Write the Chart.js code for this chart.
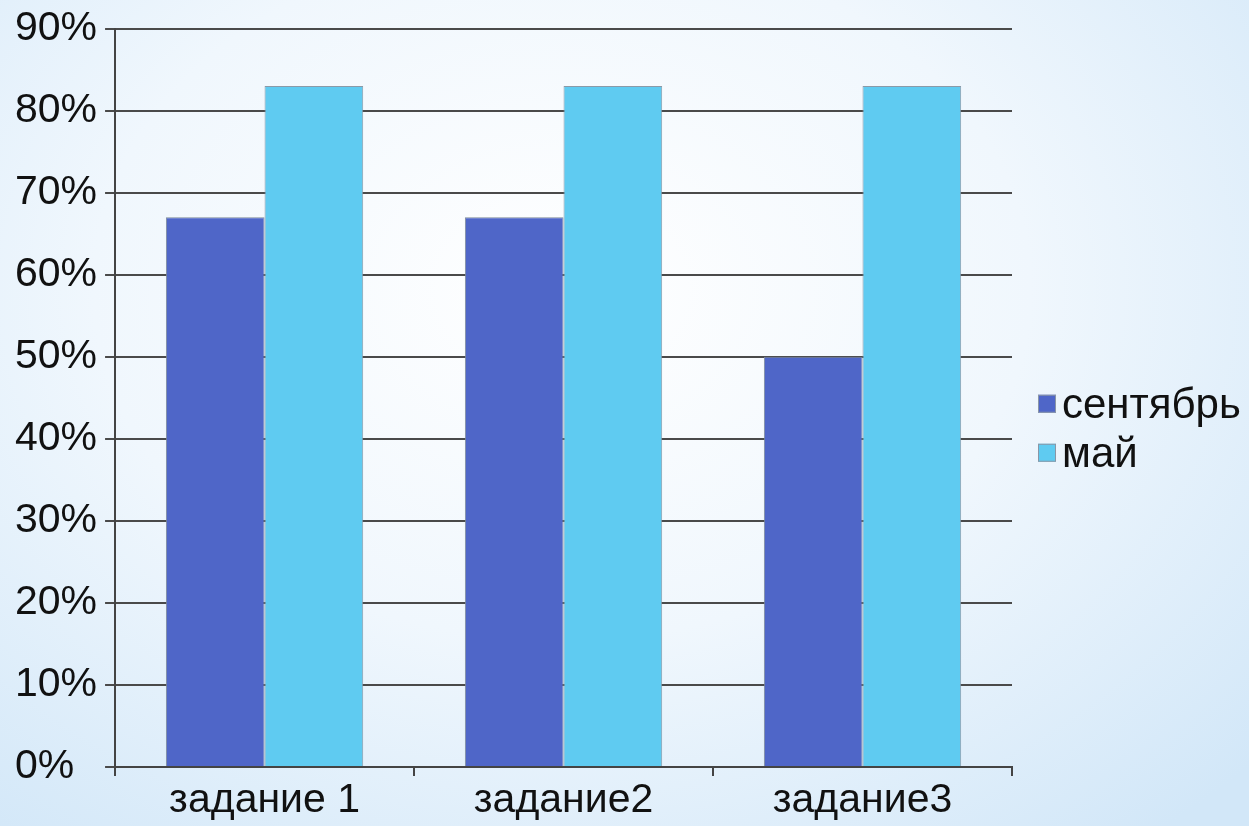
<!DOCTYPE html>
<html lang="ru">
<head>
    <meta charset="UTF-8">
    <title>Диаграмма</title>
    <style>
        html, body { margin: 0; padding: 0; }
        body {
            width: 1249px; height: 826px; overflow: hidden;
            background: radial-gradient(ellipse 75% 85% at 45% 35%, #ffffff 0%, #f0f7fd 50%, #d2e7f8 100%);
            font-family: "Liberation Sans", Arial, sans-serif;
        }
        #wrap { position: relative; width: 1249px; height: 826px; }
    </style>
</head>
<body>
    <div id="wrap">
        <canvas id="myChart" width="1249" height="826"></canvas>
    </div>

    <script src="https://cdn.jsdelivr.net/npm/chart.js"></script>
    <script>
        // Adatok
        const categories = ['задание 1', 'задание2', 'задание3'];
        const september = [67, 67, 50];
        const may = [83, 83, 83];
        const seriesNames = ['сентябрь', 'май'];
        const yTicks = [0, 10, 20, 30, 40, 50, 60, 70, 80, 90];

        // Jelmagyarázat a diagram jobb oldalán, a négyzet közvetlenül a szöveg mellett
        const sideLegend = {
            id: 'sideLegend',
            afterDraw(chart) {
                const c = chart.ctx;
                const area = chart.chartArea;
                const box = 18;
                const rowH = 49;
                const x = area.right + 26;
                const y0 = (area.top + area.bottom) / 2 + 6;
                c.save();
                c.font = '42px "Liberation Sans", Arial, sans-serif';
                c.textBaseline = 'middle';
                chart.data.datasets.forEach((ds, i) => {
                    const y = y0 + i * rowH;
                    c.fillStyle = ds.backgroundColor;
                    c.fillRect(x, y - box / 2, box, box);
                    c.strokeStyle = '#8a96a6';
                    c.lineWidth = 1;
                    c.strokeRect(x + 0.5, y - box / 2 + 0.5, box - 1, box - 1);
                    c.fillStyle = '#111';
                    c.fillText(ds.label, x + box + 6, y + 3);
                });
                c.restore();
            }
        };

        const ctx = document.getElementById('myChart').getContext('2d');
        const myChart = new Chart(ctx, {
            type: 'bar',
            data: {
                labels: categories,
                datasets: [{
                    label: seriesNames[0],
                    data: september,
                    backgroundColor: '#4f66c8',
                    borderColor: '#7d8a9a',
                    borderWidth: 1,
                    borderSkipped: 'bottom'
                }, {
                    label: seriesNames[1],
                    data: may,
                    backgroundColor: '#5fcbf1',
                    borderColor: '#8a9aa8',
                    borderWidth: 1,
                    borderSkipped: 'bottom'
                }]
            },
            options: {
                responsive: false,
                animation: false,
                layout: { padding: { left: 15, top: 1, right: 237, bottom: 1 } },
                datasets: {
                    bar: { barPercentage: 1, categoryPercentage: 0.66 }
                },
                plugins: {
                    tooltip: { enabled: false },
                    legend: { display: false }
                },
                scales: {
                    x: {
                        grid: {
                            offset: true,
                            drawOnChartArea: false,
                            drawTicks: true,
                            tickLength: 9,
                            color: '#444',
                            lineWidth: 2
                        },
                        border: { color: '#444', width: 2 },
                        ticks: {
                            color: '#111',
                            padding: 2,
                            font: { family: '"Liberation Sans", Arial', size: 41, lineHeight: 1.1 }
                        }
                    },
                    y: {
                        min: 0,
                        max: 90,
                        afterBuildTicks: axis => { axis.ticks = yTicks.map(v => ({ value: v })); },
                        grid: {
                            color: '#4a4a4a',
                            lineWidth: 2,
                            tickLength: 10
                        },
                        border: { color: '#444', width: 2 },
                        ticks: {
                            color: '#111',
                            padding: 4,
                            crossAlign: 'far',
                            font: { family: '"Liberation Sans", Arial', size: 41 },
                            callback: v => v + '%'
                        }
                    }
                }
            },
            plugins: [sideLegend]
        });
    </script>
</body>
</html>
